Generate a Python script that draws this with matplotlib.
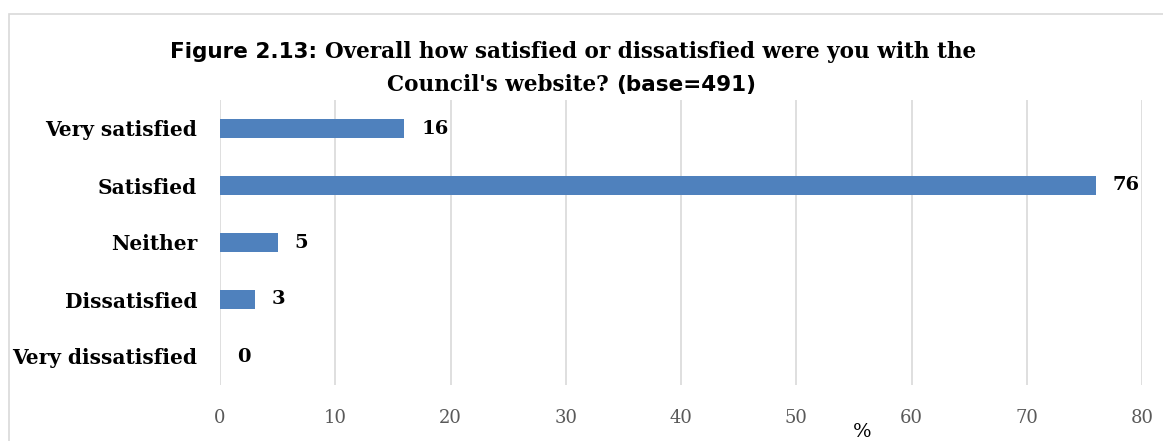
import matplotlib
matplotlib.use("Agg")
import matplotlib.pyplot as plt
from matplotlib.patches import Rectangle

categories = ["Very satisfied", "Satisfied", "Neither", "Dissatisfied", "Very dissatisfied"]
values = [16, 76, 5, 3, 0]
xticks = [0, 10, 20, 30, 40, 50, 60, 70, 80]
title_line1 = [("Figure 2.13: ", "sans"), ("Overall how satisfied or dissatisfied were you with the", "serif")]
title_line2 = [("Council's website? ", "serif"), ("(base=491)", "sans")]
xlabel = "%"

SERIF = "DejaVu Serif"
SANS = "DejaVu Sans"
bar_color = "#4f81bd"

W, H = 1163, 441
fig = plt.figure(figsize=(W / 100, H / 100), dpi=100)

# chart border
fig.patches.append(Rectangle((9 / W, -0.1), 1.2, 1 - 14 / H + 0.1, transform=fig.transFigure,
                             fill=False, edgecolor="#d9d9d9", linewidth=1.2))

ax = fig.add_axes([220 / W, 56 / H, 922 / W, 285 / H])
y = list(range(len(categories)))
ax.barh(y, values, height=0.33, color=bar_color, zorder=3)
ax.set_xlim(0, 80)
ax.set_ylim(len(categories) - 0.5, -0.5)
ax.set_xticks(xticks)
ax.set_xticklabels([str(t) for t in xticks], fontfamily=SERIF, fontsize=13, color="#595959")
ax.set_yticks(y)
ax.set_yticklabels(categories, fontfamily=SERIF, fontweight="bold", fontsize=14.5, color="black")
ax.tick_params(axis="both", length=0)
ax.tick_params(axis="y", pad=16.5)
ax.tick_params(axis="x", pad=17)
ax.grid(axis="x", color="#d9d9d9", linewidth=1.2, zorder=0)
for s in ax.spines.values():
    s.set_visible(False)

for yi, v in zip(y, values):
    ax.annotate(str(v), (v, yi), xytext=(17, 0), textcoords="offset pixels",
                ha="left", va="center", fontfamily=SERIF, fontweight="bold", fontsize=14, color="black")

ax.text((862 - 220) / 922, -0.135, xlabel, transform=ax.transAxes,
        ha="center", va="top", fontfamily=SERIF, fontsize=14, color="black")

# title with mixed fonts
fig.canvas.draw()
renderer = fig.canvas.get_renderer()

def draw_line(segments, center_px, baseline_px, size=15.5):
    texts = []
    total = 0
    for s, fam in segments:
        t = fig.text(0, 0, s, fontfamily=SERIF if fam == "serif" else SANS, fontweight="bold",
                     fontsize=size, va="baseline", ha="left", transform=None)
        w = t.get_window_extent(renderer).width
        texts.append((t, w))
        total += w
    x = center_px - total / 2
    for t, w in texts:
        t.set_position((x, H - baseline_px))
        x += w

draw_line(title_line1, 573, 58)
draw_line(title_line2, 572, 91)

fig.savefig("out.png", dpi=100)
